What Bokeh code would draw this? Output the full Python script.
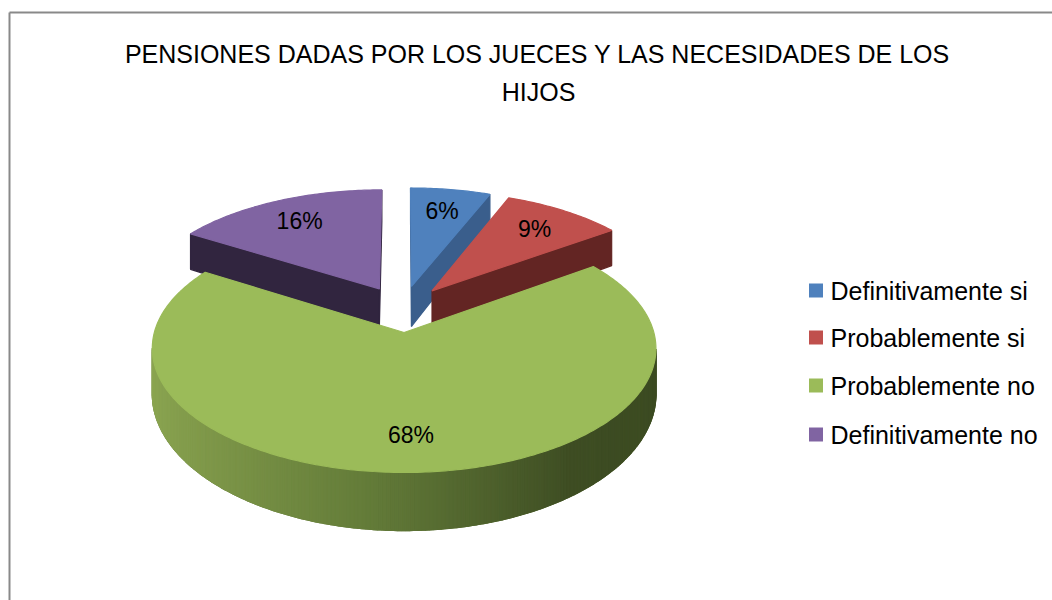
import numpy as np
from bokeh.plotting import figure
from bokeh.models import Range1d, ColumnDataSource
from bokeh.core.properties import value
from bokeh.embed import file_html
from bokeh.resources import INLINE

# ---------------- data ----------------
categories = ["Definitivamente si", "Probablemente si", "Probablemente  no", "Definitivamente no"]
values = [6, 9, 68, 16]
labels = ["6%", "9%", "68%", "16%"]
top_colors = ["#4F81BD", "#C0504D", "#9BBB59", "#8064A2"]
side_colors = ["#3A5E8C", "#632523", "#5F7636", "#31253F"]
title_lines = ["PENSIONES DADAS POR LOS JUECES Y LAS NECESIDADES DE LOS", "HIJOS"]

# ---------------- 3D projection parameters ----------------
CX, CY = 402.0, 308.2     # pie centre (page pixels)
A, B = 243.5, 116.0       # horizontal / vertical radius scale
D = 8.0                   # perspective distance (in radius units)
H = 42.0                  # thickness
EXPL = 0.2                # explosion (radius units)
CAM = (0.0, -D)

FONT = value("Liberation Sans")


def proj(u, v, bottom=False):
    f = D / (D + v)
    x = CX + A * u * f
    y = CY - B * v * f
    if bottom:
        y = y + H * f * f
    return x, y


def lerp_col(stops, t):
    t = min(max(t, 0.0), 1.0)
    for (t0, c0), (t1, c1) in zip(stops[:-1], stops[1:]):
        if t <= t1:
            k = 0 if t1 == t0 else (t - t0) / (t1 - t0)
            c = [int(round(a + (b - a) * k)) for a, b in zip(c0, c1)]
            return "#%02x%02x%02x" % tuple(c)
    c = stops[-1][1]
    return "#%02x%02x%02x" % tuple(c)


green_stops = [(0.0, (139, 165, 81)), (0.45, (98, 122, 56)), (0.8, (62, 77, 35)), (1.0, (60, 75, 34))]

total = float(sum(values))
cum = np.concatenate([[0.0], np.cumsum(values)]) / total * 360.0

slices = []
for i, v_ in enumerate(values):
    p0, p1 = cum[i], cum[i + 1]
    bis = np.radians((p0 + p1) / 2)
    du, dv = np.sin(bis), np.cos(bis)
    cu, cv = EXPL * du, EXPL * dv
    slices.append(dict(i=i, p0=p0, p1=p1, du=du, dv=dv, cu=cu, cv=cv))

# painter's order: back first
order = sorted(slices, key=lambda s: -s["cv"])

xs, ys, fills = [], [], []
for s in order:
    i = s["i"]
    cu, cv = s["cu"], s["cv"]
    p0, p1 = s["p0"], s["p1"]
    n = max(6, int((p1 - p0) / 0.8) + 2)
    phis = np.radians(np.linspace(p0, p1, n))
    rim_u = cu + np.sin(phis)
    rim_v = cv + np.cos(phis)
    camd = (CAM[0] - cu, CAM[1] - cv)

    # radial cut faces
    for phi, nrm in [(np.radians(p0), (-np.cos(np.radians(p0)), np.sin(np.radians(p0)))),
                     (np.radians(p1), (np.cos(np.radians(p1)), -np.sin(np.radians(p1))))]:
        if camd[0] * nrm[0] + camd[1] * nrm[1] > 0:
            ru, rv = cu + np.sin(phi), cv + np.cos(phi)
            a_t = proj(cu, cv)
            r_t = proj(ru, rv)
            r_b = proj(ru, rv, True)
            a_b = proj(cu, cv, True)
            xs.append([a_t[0], r_t[0], r_b[0], a_b[0]])
            ys.append([a_t[1], r_t[1], r_b[1], a_b[1]])
            fills.append(side_colors[i])

    # outer curved side (visible strips only)
    vis = [k for k in range(n - 1)
           if camd[0] * np.sin((phis[k] + phis[k + 1]) / 2)
           + camd[1] * np.cos((phis[k] + phis[k + 1]) / 2) - 1.0 > 0]
    if vis:
        ks = list(range(vis[0], vis[-1] + 2))
        tx_, ty_ = proj(rim_u[ks], rim_v[ks])
        bx_, by_ = proj(rim_u[ks], rim_v[ks], True)
        xs.append(list(tx_) + list(bx_[::-1]))
        ys.append(list(ty_) + list(by_[::-1]))
        fills.append(side_colors[i])
    for k in vis:
        nu = np.sin((phis[k] + phis[k + 1]) / 2)
        ta = proj(rim_u[k], rim_v[k]); tb = proj(rim_u[k + 1], rim_v[k + 1])
        bb = proj(rim_u[k + 1], rim_v[k + 1], True); ba = proj(rim_u[k], rim_v[k], True)
        xs.append([ta[0], tb[0], bb[0], ba[0]])
        ys.append([ta[1], tb[1], bb[1], ba[1]])
        fills.append(lerp_col(green_stops, (nu + 1) / 2) if i == 2 else side_colors[i])

    # top face
    a_t = proj(cu, cv)
    tx, ty = proj(rim_u, rim_v)
    xs.append([a_t[0]] + list(tx))
    ys.append([a_t[1]] + list(ty))
    fills.append(top_colors[i])

W, Hh = 1052, 600
p = figure(width=W, height=Hh, output_backend="svg", toolbar_location=None,
           x_range=Range1d(0, W), y_range=Range1d(Hh, 0),
           min_border=0, outline_line_color=None,
           background_fill_color="white", border_fill_color="white")
p.axis.visible = False
p.grid.visible = False

# chart frame
p.line([9, W], [12, 12], line_color="#898989", line_width=2)
p.line([9, 9], [12, Hh], line_color="#898989", line_width=2)

src = ColumnDataSource(dict(xs=xs, ys=ys, fill=fills))
p.patches("xs", "ys", source=src, fill_color="fill", line_color="fill", line_width=1.2)

# data labels
lx, ly = [], []
for s in slices:
    x, y = proj(s["cu"] + 0.76 * s["du"], s["cv"] + 0.76 * s["dv"])
    lx.append(x); ly.append(y)
p.text(lx, ly, text=labels, text_font=FONT, text_font_size="23px",
       text_align="center", text_baseline="middle", text_color="#000000")

# title
p.text([537, 538], [53, 91], text=title_lines, text_font=FONT, text_font_size="25px",
       text_align="center", text_baseline="middle", text_color="#000000")

# legend
leg_y = [290, 337, 385, 434]
p.rect([815.5] * 4, leg_y, width=14, height=14, fill_color=top_colors, line_color=None)
p.text([830] * 4, leg_y, text=categories, text_font=FONT, text_font_size="25px",
       text_align="left", text_baseline="middle", text_color="#000000")

open("out.html", "w").write(file_html(p, INLINE))
